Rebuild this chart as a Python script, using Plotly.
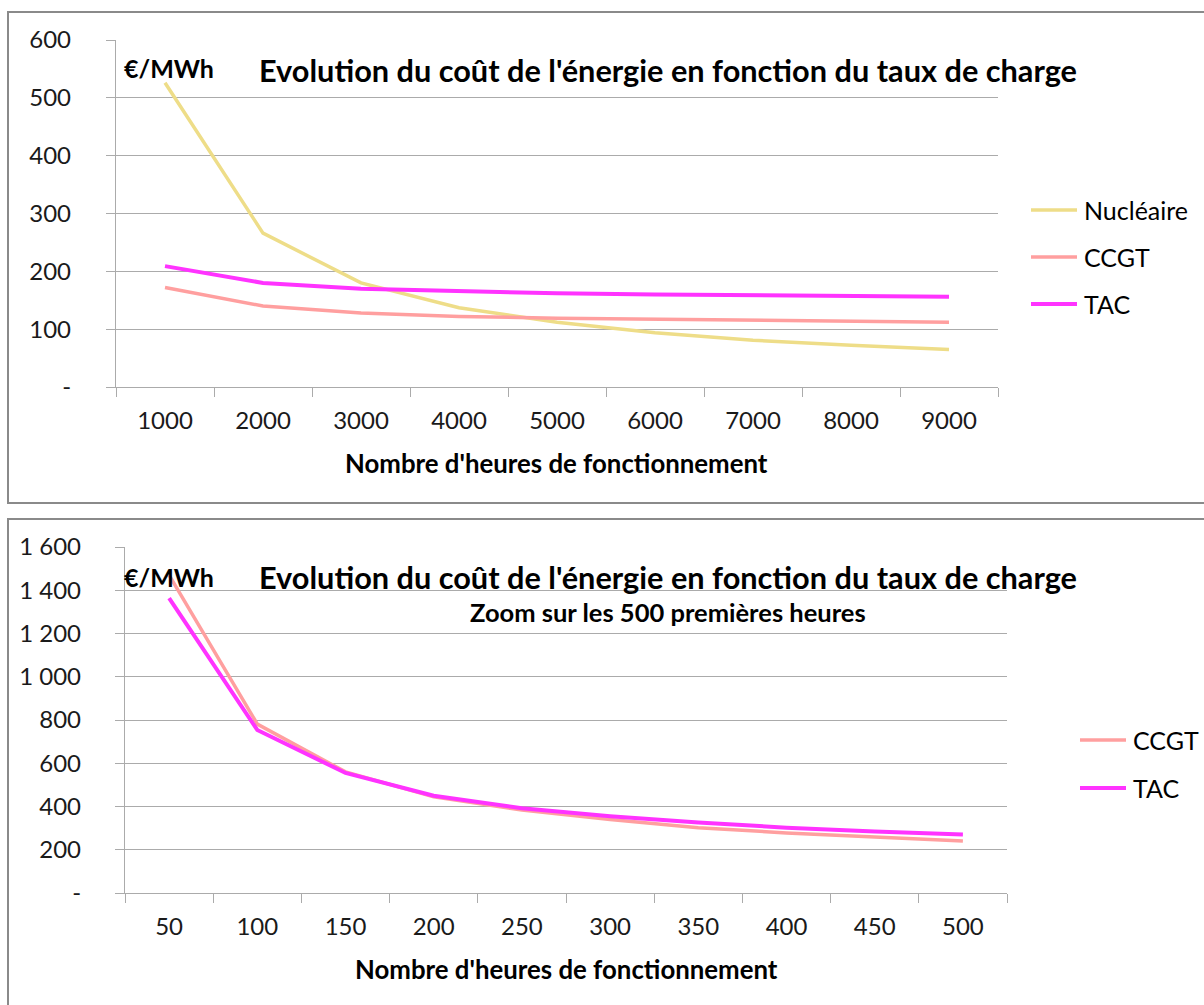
import plotly.graph_objects as go

# ---------------- data ----------------
hours_full = ["1000", "2000", "3000", "4000", "5000", "6000", "7000", "8000", "9000"]
nucleaire_full = [526, 266, 180, 137, 112, 94, 81, 72, 65]
ccgt_full = [172, 140, 128, 122, 119, 117, 115, 114, 112]
tac_full = [209, 180, 170, 166, 162, 160, 159, 158, 156]

hours_zoom = ["50", "100", "150", "200", "250", "300", "350", "400", "450", "500"]
ccgt_zoom = [1470, 781, 560, 445, 384, 340, 302, 278, 259, 240]
tac_zoom = [1364, 754, 555, 450, 392, 355, 326, 302, 284, 270]

yticks_full = [0, 100, 200, 300, 400, 500, 600]
ylabels_full = ["-", "100", "200", "300", "400", "500", "600"]
yticks_zoom = [0, 200, 400, 600, 800, 1000, 1200, 1400, 1600]
ylabels_zoom = ["-", "200", "400", "600", "800", "1 000", "1 200", "1 400", "1 600"]

title_main = "Evolution du coût de l'énergie en fonction du taux de charge"
subtitle_zoom = "Zoom sur les 500 premières heures"
unit_label = "€/MWh"
x_title = "Nombre d'heures de fonctionnement"

# ---------------- style ----------------
W, H = 1204, 1005
FONT = "Lato"
TXT = "#1a1a1a"
GRID = "#ababab"
FRAME = "#8a8a8a"
COL = {"Nucléaire": "#EEDD88", "CCGT": "#FF9F9F", "TAC": "#FF33FF"}
WID = {"Nucléaire": 3.5, "CCGT": 3.5, "TAC": 4}


def px(x):
    return x / W


def py(y):
    return 1 - y / H


fig = go.Figure()

for name, vals in [("Nucléaire", nucleaire_full), ("CCGT", ccgt_full), ("TAC", tac_full)]:
    fig.add_trace(go.Scatter(x=hours_full, y=vals, mode="lines", name=name,
                             line=dict(color=COL[name], width=WID[name]),
                             xaxis="x", yaxis="y", showlegend=False))
for name, vals in [("CCGT", ccgt_zoom), ("TAC", tac_zoom)]:
    fig.add_trace(go.Scatter(x=hours_zoom, y=vals, mode="lines", name=name,
                             line=dict(color=COL[name], width=WID[name]),
                             xaxis="x2", yaxis="y2", showlegend=False))

tickfont = dict(family=FONT, size=24, color=TXT)

xcommon = dict(type="category", tickson="boundaries", ticks="outside", ticklen=9,
               tickcolor=GRID, tickwidth=1.3, showline=True, linecolor=GRID, linewidth=1.3,
               showgrid=False, tickfont=tickfont, ticklabelstandoff=12, fixedrange=True,
               automargin=False)
ycommon = dict(ticks="outside", ticklen=9, tickcolor=GRID, tickwidth=1.3,
               showline=True, linecolor=GRID, linewidth=1.3, showgrid=True,
               gridcolor=GRID, gridwidth=1.3, zeroline=False, tickfont=tickfont,
               fixedrange=True, automargin=False)

fig.update_layout(
    width=W, height=H,
    margin=dict(l=0, r=0, t=0, b=0, pad=0, autoexpand=False),
    paper_bgcolor="white", plot_bgcolor="white",
    showlegend=False,
    xaxis=dict(domain=[px(116), px(998)], anchor="y",
               range=[-0.5, len(hours_full) - 0.5], **xcommon),
    yaxis=dict(domain=[py(387), py(40)], anchor="x", range=[0, 600],
               tickvals=yticks_full, ticktext=ylabels_full, ticklabelstandoff=30, **ycommon),
    xaxis2=dict(domain=[px(125), px(1007)], anchor="y2",
                range=[-0.5, len(hours_zoom) - 0.5], **xcommon),
    yaxis2=dict(domain=[py(893), py(547)], anchor="x2", range=[0, 1600],
                tickvals=yticks_zoom, ticktext=ylabels_zoom, ticklabelstandoff=29, **ycommon),
)

shapes = []
# chart frames
shapes.append(dict(type="rect", xref="paper", yref="paper", x0=px(8), x1=px(1300),
                   y0=py(503), y1=py(12), line=dict(color=FRAME, width=2)))
shapes.append(dict(type="rect", xref="paper", yref="paper", x0=px(8), x1=px(1300),
                   y0=py(1100), y1=py(519), line=dict(color=FRAME, width=2)))

annotations = []


def text(x, y, s, size, bold=False, xanchor="left", yanchor="middle"):
    annotations.append(dict(xref="paper", yref="paper", x=px(x), y=py(y),
                            text=("<b>%s</b>" % s) if bold else s, showarrow=False,
                            xanchor=xanchor, yanchor=yanchor,
                            font=dict(family=FONT, size=size, color="#000000")))


# legends
def legend(x0, y, name):
    shapes.append(dict(type="line", xref="paper", yref="paper", x0=px(x0), x1=px(x0 + 46),
                       y0=py(y), y1=py(y), line=dict(color=COL[name], width=WID[name])))
    text(x0 + 51, y, name, 25)


for i, name in enumerate(["Nucléaire", "CCGT", "TAC"]):
    legend(1031, 210 + 47 * i, name)
for i, name in enumerate(["CCGT", "TAC"]):
    legend(1080, 740 + 48 * i, name)

# titles
text(122, 68, unit_label, 25, bold=True)
text(668, 70, title_main, 30.7, bold=True, xanchor="center")
text(556, 463, x_title, 25.8, bold=True, xanchor="center")

text(122, 577, unit_label, 25, bold=True)
text(668, 577, title_main, 30.7, bold=True, xanchor="center")
text(668, 612, subtitle_zoom, 25.5, bold=True, xanchor="center")
text(566, 969, x_title, 25.8, bold=True, xanchor="center")

fig.update_layout(shapes=shapes, annotations=annotations)

fig.write_html("out.html", config={"displayModeBar": False},
               post_script="document.body.style.margin='0';document.body.style.overflow='hidden';")
